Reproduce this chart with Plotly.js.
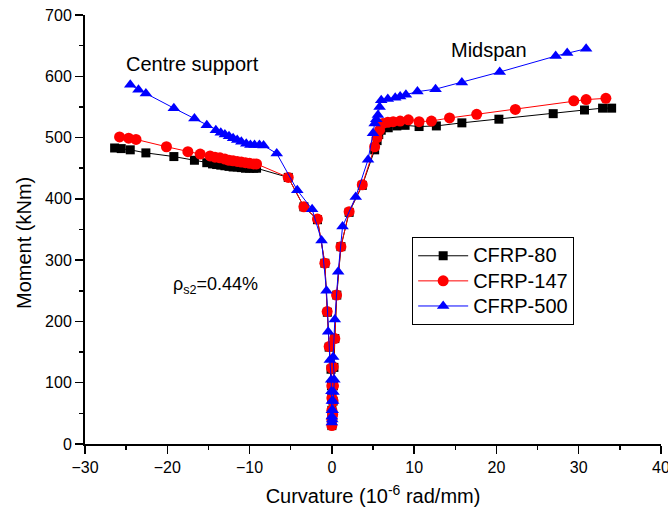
<!DOCTYPE html>
<html>
<head>
<meta charset="utf-8">
<script src="https://cdn.plot.ly/plotly-3.0.1.min.js"></script>
<style>html,body{margin:0;padding:0;background:#fff;overflow:hidden;}#chart{width:668px;height:518px;}</style>
</head>
<body>
<div id="chart"></div>
<script>
// CFRP-80 (black squares)
const cfrp80_x = [-26.4,-25.6,-24.5,-22.6,-19.2,-16.7,-15.2,-14.5,-14.0,-13.5,-13.0,-12.5,-12.0,-11.5,-11.0,-10.5,-10.0,-9.5,-9.15,-5.3,-3.4,-1.75,-0.85,-0.55,-0.33,-0.1,-0.05,0.0,0.0,0.0,0.0,
  0.1,0.15,0.2,0.25,0.36,0.6,1.1,2.1,3.7,5.2,5.5,5.7,6.0,6.85,7.9,8.9,10.6,12.7,15.8,20.3,26.9,30.7,32.9,34.0];
const cfrp80_y = [483,482,480,475,469,463,459,457,456,455,454,453,452,452,451,450,450,450,450,435,387,366,295,215,158,122,95,75,55,40,30,
  45,70,95,125,172,243,322,378,422,480,495,505,512,516,519,520,518,519,524,530,539,545,548,548];

// CFRP-147 (red circles)
const cfrp147_x = [-25.8,-24.7,-23.8,-20.1,-17.5,-16.0,-14.8,-14.2,-13.6,-13.0,-12.5,-12.0,-11.5,-11.0,-10.5,-10.0,-9.5,-9.15,-5.3,-3.4,-1.75,-0.85,-0.57,-0.33,-0.04,0.0,0.0,0.0,0.0,0.0,
  0.1,0.15,0.2,0.16,0.36,0.57,1.1,2.1,3.7,5.2,5.5,5.8,6.2,6.8,7.45,8.3,9.3,10.6,12.1,14.3,17.6,22.3,29.4,30.9,33.3];
const cfrp147_y = [501,499,497,485,477,473,470,468,467,465,463,462,461,460,459,458,457,457,435,387,367,295,216,159,124,95,75,55,40,30,
  48,70,95,126,172,243,322,379,423,485,500,512,523,525,526,527,529,526,527,532,538,546,560,562,564];

// CFRP-500 (blue triangles)
const cfrp500_x = [-24.5,-23.5,-22.6,-19.2,-16.7,-15.2,-14.1,-13.5,-13.0,-12.5,-12.0,-11.5,-11.0,-10.4,-9.9,-9.4,-8.8,-8.3,-6.7,-4.2,-2.4,-1.25,-0.65,-0.45,-0.24,-0.08,-0.05,0.0,0.0,0.0,0.0,
  0.05,0.1,0.15,0.2,0.3,0.16,0.36,0.77,1.3,2.9,4.4,5.0,5.2,5.4,5.6,5.8,6.0,6.8,7.7,8.3,9.0,10.4,12.6,15.8,20.4,27.2,28.6,30.9];
const cfrp500_y = [586,578,572,548,531,520,512,508,505,502,499,496,493,490,488,488,488,487,474,414,383,332,250,183,137,105,86,70,55,45,35,
  40,55,70,85,105,142,203,281,355,403,464,507,523,530,537,550,561,563,565,567,570,575,579,590,607,633,638,645];

const seriesNames = ['CFRP-80','CFRP-147','CFRP-500'];
const xTickVals = [-30,-20,-10,0,10,20,30,40];
const yTickVals = [0,100,200,300,400,500,600,700];

const FONT = 'Liberation Sans, Arial, Helvetica, sans-serif';
const legName = n => '<span style="font-size:20px">' + n + '</span>';

const traces = [
  {x: cfrp80_x, y: cfrp80_y, name: legName(seriesNames[0]), mode: 'lines+markers',
   line: {color: '#000000', width: 1}, marker: {symbol: 'square', size: 9, color: '#000000'}},
  {x: cfrp147_x, y: cfrp147_y, name: legName(seriesNames[1]), mode: 'lines+markers',
   line: {color: '#ff0000', width: 1}, marker: {symbol: 'circle', size: 11, color: '#ff0000'}},
  {x: cfrp500_x, y: cfrp500_y, name: legName(seriesNames[2]), mode: 'lines+markers',
   line: {color: '#0000ff', width: 1}, marker: {symbol: 'triangle-up', size: 11, color: '#0000ff'}}
];

const layout = {
  width: 668, height: 518,
  margin: {l: 85, r: 7, t: 15, b: 74},
  paper_bgcolor: '#ffffff', plot_bgcolor: '#ffffff',
  font: {family: FONT, color: '#000000', size: 16},
  showlegend: true,
  legend: {x: 0.568, y: 0.482, xanchor: 'left', yanchor: 'top',
    bordercolor: '#000000', borderwidth: 1, bgcolor: '#ffffff', itemwidth: 50,
    font: {family: FONT, size: 17, color: '#000000'}, tracegroupgap: 0},
  xaxis: {
    range: [-30, 40], tickvals: xTickVals, ticks: 'outside', ticklen: 8, tickwidth: 1.5,
    tickcolor: '#000', showline: true, linecolor: '#000', linewidth: 2, showgrid: false, zeroline: false,
    tickfont: {size: 16}, ticklabeloverflow: 'allow',
    minor: {dtick: 5, ticks: 'outside', ticklen: 4, tickwidth: 1.5, tickcolor: '#000', showgrid: false},
    title: {text: 'Curvature (10<sup>-6</sup> rad/mm)', font: {size: 20}, standoff: 14}
  },
  yaxis: {
    range: [0, 700], tickvals: yTickVals, ticks: 'outside', ticklen: 8, tickwidth: 1.5,
    tickcolor: '#000', showline: true, linecolor: '#000', linewidth: 2, showgrid: false, zeroline: false,
    tickfont: {size: 16},
    minor: {dtick: 50, ticks: 'outside', ticklen: 4, tickwidth: 1.5, tickcolor: '#000', showgrid: false}
  },
  annotations: [
    {text: 'Moment (kNm)', textangle: -90, x: -0.106, y: 0.4685, xref: 'paper', yref: 'paper',
     xanchor: 'center', yanchor: 'middle', showarrow: false, font: {size: 20}},
    {text: 'Centre support', x: -16.9, y: 620, xref: 'x', yref: 'y', showarrow: false, font: {size: 20}},
    {text: 'Midspan', x: 19.1, y: 643, xref: 'x', yref: 'y', showarrow: false, font: {size: 20}},
    {text: 'ρ<sub>s2</sub>=0.44%', x: -14.2, y: 258, xref: 'x', yref: 'y', showarrow: false, font: {size: 18}}
  ]
};

Plotly.newPlot('chart', traces, layout, {displayModeBar: false, staticPlot: true});
</script>
</body>
</html>
